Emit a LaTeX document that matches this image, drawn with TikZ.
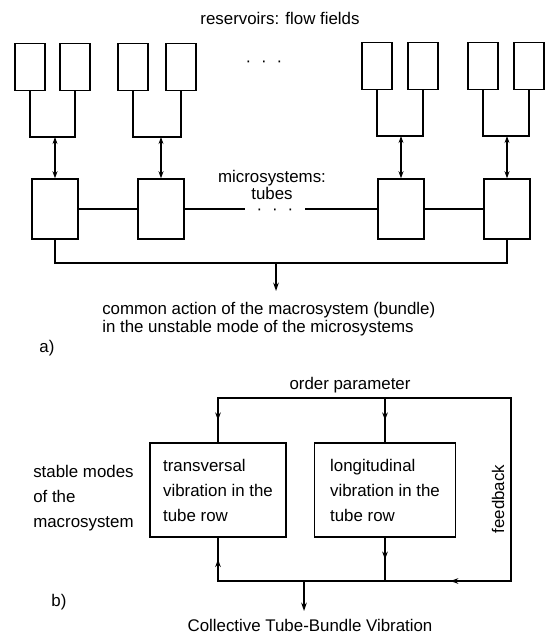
\documentclass[tikz,border=0pt]{standalone}
\usepackage{fontspec}
\setmainfont{Liberation Sans}
\usetikzlibrary{arrows.meta,decorations.markings}
\tikzset{
  reservoir/.style={rectangle, draw, line width=0.9pt, minimum width=0.75cm, minimum height=1.175cm, inner sep=0pt},
  tube/.style={rectangle, draw, line width=0.9pt, minimum width=1.15cm, minimum height=1.5cm, inner sep=0pt},
  modebox/.style={rectangle, draw, line width=0.9pt, minimum height=2.35cm, align=left, inner sep=0pt, font=\fontsize{12}{17.8}\selectfont},
  txt/.style={inner sep=0pt, font=\fontsize{12}{14}\selectfont},
  wire/.style={line width=0.9pt},
  coupling/.style={line width=0.9pt, {Stealth[length=5pt,width=3.5pt]}-{Stealth[length=5pt,width=3.5pt]}},
  outarrow/.style={line width=0.9pt, -{Stealth[length=6pt,width=4pt]}},
  midarrow/.style={line width=0.9pt, decoration={markings, mark=at position #1 with {\arrow{Stealth[length=5.5pt,width=4pt]}}}, postaction={decorate}},
  midarrow/.default=0.5
}
\begin{document}
\begin{tikzpicture}[x=0.025cm, y=-0.025cm]
  \useasboundingbox (0,0) rectangle (553,635);

  % a) reservoirs
  \node[txt] (restitle) at (280,18) {reservoirs: flow fields};
  \node[reservoir] (r11) at (30,67) {};
  \node[reservoir] (r12) at (75,67) {};
  \node[reservoir] (r21) at (133,67) {};
  \node[reservoir] (r22) at (181,67) {};
  \node[reservoir] (r31) at (377,66) {};
  \node[reservoir] (r32) at (423,66) {};
  \node[reservoir] (r41) at (483,66) {};
  \node[reservoir] (r42) at (529,66) {};
  \node[txt] (topdots) at (264,64) {·\hspace{7pt}·\hspace{7pt}·};

  \coordinate (j1) at (55,137);
  \coordinate (j2) at (161,137);
  \coordinate (j3) at (401,136);
  \coordinate (j4) at (507,136);
  \draw[wire] (r11.south) |- (j1) -| (r12.south);
  \draw[wire] (r21.south) |- (j2) -| (r22.south);
  \draw[wire] (r31.south) |- (j3) -| (r32.south);
  \draw[wire] (r41.south) |- (j4) -| (r42.south);

  % a) tubes
  \node[tube] (m1) at (55,209) {};
  \node[tube] (m2) at (161,209) {};
  \node[tube] (m3) at (401,209) {};
  \node[tube] (m4) at (507,209) {};
  \draw[coupling] (j1) -- (m1.north);
  \draw[coupling] (j2) -- (m2.north);
  \draw[coupling] (j3) -- (m3.north);
  \draw[coupling] (j4) -- (m4.north);

  \coordinate (g1) at (245,209);
  \coordinate (g2) at (305,209);
  \draw[wire] (m1) -- (m2);
  \draw[wire] (m2) -- (g1);
  \draw[wire] (g2) -- (m3);
  \draw[wire] (m3) -- (m4);
  \node[txt, align=center, font=\fontsize{12}{12}\selectfont] (micro) at (272,185) {microsystems:\\tubes};
  \node[txt] (middots) at (275,212) {·\hspace{7pt}·\hspace{7pt}·};

  \coordinate (b1) at (276,263);
  \coordinate (a1) at (276,291);
  \draw[wire] (m1.south) |- (b1) -| (m4.south);
  \draw[outarrow] (b1) -- (a1);
  \node[txt, align=left, anchor=west, font=\fontsize{12}{12.8}\selectfont] (action) at (102,319)
    {common action of the macrosystem (bundle)\\in the unstable mode of the microsystems};
  \node[txt] (parta) at (47,348) {a)};

  % b) order parameter and modes
  \node[txt] (order) at (350,385) {order parameter};
  \node[modebox, minimum width=3.4cm] (trans) at (218,490) {transversal\\vibration in the\\tube row};
  \node[modebox, minimum width=3.525cm] (longi) at (385,490) {longitudinal\\vibration in the\\tube row};
  \node[txt, align=left, anchor=west, font=\fontsize{12}{17.8}\selectfont] (stable) at (33,498) {stable modes\\of the\\macrosystem};
  \node[txt, rotate=90] (feedback) at (498,499) {feedback};

  \coordinate (tl) at (218,398);
  \coordinate (tm) at (385,398);
  \coordinate (tr) at (511,398);
  \coordinate (br) at (511,581);
  \coordinate (bm) at (385,581);
  \coordinate (bl) at (218,581);
  \coordinate (bo) at (304,581);
  \coordinate (co) at (304,611);
  \draw[wire] (trans.north) -- (tl) -- (tr) -- (br) -- (bl) -- (trans.south);
  \draw[midarrow] (tl) -- (trans.north);
  \draw[midarrow] (tm) -- (longi.north);
  \draw[midarrow] (bl) -- (trans.south);
  \draw[midarrow] (longi.south) -- (bm);
  \draw[midarrow=0.48] (br) -- (bm);
  \draw[outarrow] (bo) -- (co);
  \node[txt] (collective) at (310,625) {Collective Tube-Bundle Vibration};
  \node[txt] (partb) at (59,602) {b)};
\end{tikzpicture}
\end{document}
